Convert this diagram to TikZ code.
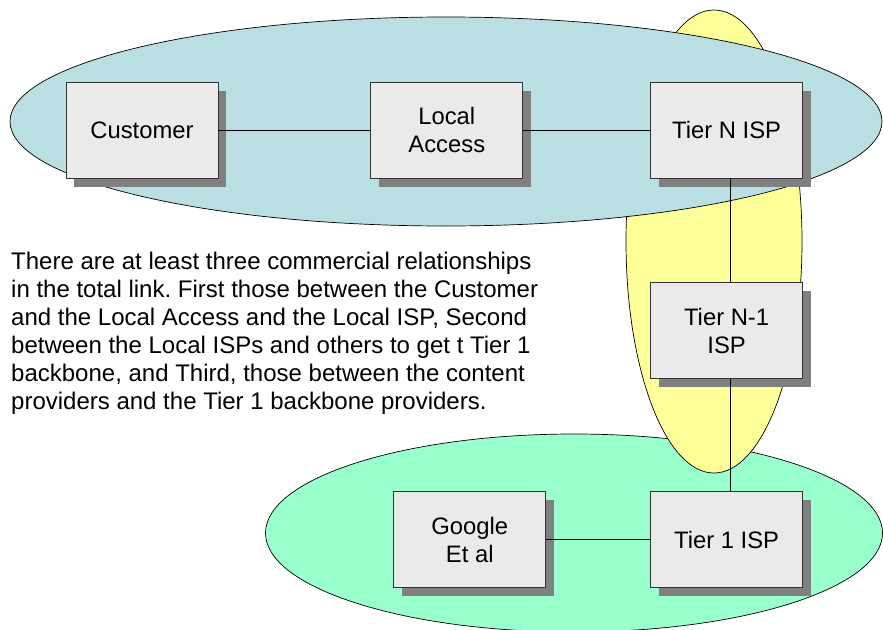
\documentclass[tikz,border=0pt]{standalone}
\usepackage{fontspec}
\setmainfont{Liberation Sans}
\usepackage{tikz}
\usetikzlibrary{positioning, shadows}
\definecolor{accessblue}{RGB}{185,223,226}
\definecolor{transityellow}{RGB}{255,255,153}
\definecolor{backbonegreen}{RGB}{153,255,204}
\definecolor{boxgray}{RGB}{234,234,234}
\definecolor{shadowgray}{RGB}{128,128,128}
\frenchspacing

\begin{document}
\begin{tikzpicture}[x=1pt, y=-1pt,
  isp/.style={draw=black!80, line width=0.8pt, fill=boxgray,
    minimum width=152pt, minimum height=96pt, align=center,
    font=\fontsize{23.8}{28}\selectfont,
    drop shadow={shadow xshift=8pt, shadow yshift=-8.5pt, fill=shadowgray, opacity=1}},
  zone/.style={draw=black, line width=0.7pt},
  link/.style={draw=black, line width=0.8pt}]
\path[use as bounding box, clip] (0,0) rectangle (883,629);
\fill[white] (0,0) rectangle (883,629);
%
\filldraw[zone, fill=backbonegreen] (574,533) ellipse [x radius=308.5pt, y radius=99pt];
\filldraw[zone, fill=transityellow] (714,241.5) ellipse [x radius=88pt, y radius=231.5pt];
\filldraw[zone, fill=accessblue] (446,121.5) ellipse [x radius=436pt, y radius=104.5pt];
%
\node[isp] (cust) at (142,130) {Customer};
\node[isp, right=152pt of cust] (la) {Local\\Access};
\node[isp, right=127pt of la] (tn) {Tier N ISP};
\node[isp, below=104pt of tn] (tn1) {Tier N-1\\ISP};
\node[isp, below=112pt of tn1] (t1) {Tier 1 ISP};
\node[isp, left=104pt of t1] (goog) {Google\\Et al};
%
\node[anchor=north west, align=left, inner sep=0pt,
      font=\fontsize{24}{27.9}\selectfont] (note) at (11,252)
  {There are at least three commercial relationships\\
   in the total link. First those between the Customer\\
   and the Local Access and the Local ISP, Second\\
   between the Local ISPs and others to get t Tier 1\\
   backbone, and Third, those between the content\\
   providers and the Tier 1 backbone providers.};
%
\draw[link] (cust.east) -- (la.west);
\draw[link] (la.east) -- (tn.west);
\draw[link] ([xshift=3.5pt]tn.south) -- ([xshift=3.5pt]tn1.north);
\draw[link] ([xshift=3.5pt]tn1.south) -- ([xshift=3.5pt]t1.north);
\draw[link] (goog.east) -- (t1.west);
%
\end{tikzpicture}
\end{document}
